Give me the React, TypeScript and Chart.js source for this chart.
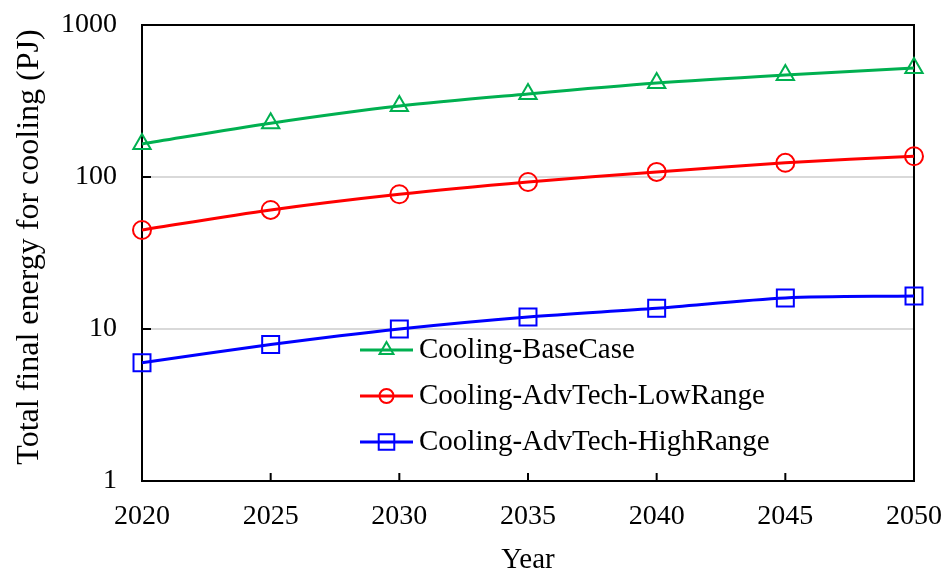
import React, { useEffect, useRef } from "react";
import { Chart, registerables } from "chart.js";

Chart.register(...registerables);

// Projection years and final energy for cooling (PJ) per scenario
const years = [2020, 2025, 2030, 2035, 2040, 2045, 2050];
const baseCase = [165, 226, 293, 352, 415, 469, 521];
const advTechLowRange = [44.8, 60.7, 77, 92.7, 108, 124, 137];
const advTechHighRange = [6.0, 7.9, 10, 12, 13.7, 16.0, 16.5];

const yTickValues = [1, 10, 100, 1000];
const yTitle = "Total final energy for cooling (PJ)";
const seriesNames = [
  "Cooling-BaseCase",
  "Cooling-AdvTech-LowRange",
  "Cooling-AdvTech-HighRange",
];
const seriesColors = ["#00B050", "#FF0000", "#0000FF"];
const seriesMarkers = ["triangle", "circle", "rect"] as const;
const markerRadius = [10, 9, 12];
const legendMarkerRadius = [8, 7, 11];

const FONT = "'Liberation Serif', 'Times New Roman', serif";

function drawMarker(ctx: CanvasRenderingContext2D, style: string, x: number, y: number, r: number) {
  ctx.beginPath();
  if (style === "circle") {
    ctx.arc(x, y, r, 0, Math.PI * 2);
  } else if (style === "rect") {
    const s = r * Math.SQRT1_2;
    ctx.rect(x - s, y - s, 2 * s, 2 * s);
  } else {
    const h = r * 1.5;
    const w = r * Math.sqrt(3);
    ctx.moveTo(x, y - r);
    ctx.lineTo(x + w / 2, y - r + h);
    ctx.lineTo(x - w / 2, y - r + h);
    ctx.closePath();
  }
  ctx.stroke();
}

// Full box around the plot, short inward tick marks and the vertical axis title
const framePlugin = {
  id: "frame",
  beforeDatasetsDraw(chart: any) {
    const { ctx, chartArea: a, scales } = chart;
    ctx.save();
    ctx.strokeStyle = "#000";
    ctx.lineWidth = 2;
    ctx.strokeRect(a.left, a.top, a.right - a.left, a.bottom - a.top);
    ctx.beginPath();
    years.slice(1, -1).forEach((yr) => {
      const x = scales.x.getPixelForValue(yr);
      ctx.moveTo(x, a.bottom);
      ctx.lineTo(x, a.bottom - 8);
    });
    yTickValues.slice(1, -1).forEach((v) => {
      const y = scales.y.getPixelForValue(v);
      ctx.moveTo(a.left, y);
      ctx.lineTo(a.left + 9, y);
    });
    ctx.stroke();

    ctx.translate(30, (a.top + a.bottom) / 2 - 6);
    ctx.rotate(-Math.PI / 2);
    ctx.fillStyle = "#000";
    ctx.font = `32px ${FONT}`;
    ctx.textAlign = "center";
    ctx.textBaseline = "middle";
    ctx.fillText(yTitle, 0, 0);
    ctx.restore();
  },
};

// Legend drawn inside the plot area
const legendPlugin = {
  id: "innerLegend",
  afterDraw(chart: any) {
    const { ctx, chartArea: a } = chart;
    const x0 = a.left + 218;
    const rowY0 = a.top + 325;
    const rowGap = 46;
    ctx.save();
    seriesNames.forEach((name, i) => {
      const y = rowY0 + i * rowGap;
      ctx.strokeStyle = seriesColors[i];
      ctx.lineWidth = 3;
      ctx.beginPath();
      ctx.moveTo(x0, y);
      ctx.lineTo(x0 + 53, y);
      ctx.stroke();
      ctx.lineWidth = 2;
      drawMarker(ctx, seriesMarkers[i], x0 + 26.5, y, legendMarkerRadius[i]);
      ctx.fillStyle = "#000";
      ctx.font = `29px ${FONT}`;
      ctx.textBaseline = "middle";
      ctx.textAlign = "left";
      ctx.fillText(name, x0 + 59, y);
    });
    ctx.restore();
  },
};

export default function App() {
  const canvasRef = useRef<HTMLCanvasElement | null>(null);

  useEffect(() => {
    if (!canvasRef.current) return;
    const seriesValues = [baseCase, advTechLowRange, advTechHighRange];
    const chart = new Chart(canvasRef.current, {
      type: "line",
      data: {
        datasets: seriesValues.map((vals, i) => ({
          label: seriesNames[i],
          data: years.map((yr, j) => ({ x: yr, y: vals[j] })),
          borderColor: seriesColors[i],
          borderWidth: 3,
          tension: 0.3,
          pointStyle: seriesMarkers[i],
          pointRadius: markerRadius[i],
          pointHoverRadius: markerRadius[i],
          pointBorderWidth: 2,
          pointBorderColor: seriesColors[i],
          pointBackgroundColor: "rgba(0,0,0,0)",
          clip: false as any,
        })),
      },
      options: {
        responsive: false,
        animation: false,
        events: [],
        layout: { padding: { left: 0, right: 37, top: 25, bottom: 0 } },
        plugins: {
          legend: { display: false },
          tooltip: { enabled: false },
        },
        scales: {
          x: {
            type: "linear",
            min: 2020,
            max: 2050,
            afterFit: (s: any) => {
              s.height = 93;
              s.paddingLeft = 0;
              s.paddingRight = 0;
            },
            grid: { display: false, drawTicks: false },
            border: { display: false },
            ticks: {
              stepSize: 5,
              padding: 19,
              color: "#000",
              font: { family: FONT, size: 28 },
              callback: (v: any) => String(v),
            },
            title: {
              display: true,
              text: "Year",
              color: "#000",
              font: { family: FONT, size: 29 },
              padding: { top: 0, bottom: -4 },
            },
          },
          y: {
            type: "logarithmic",
            min: 1,
            max: 1000,
            afterFit: (s: any) => {
              s.width = 142;
              s.paddingTop = 0;
              s.paddingBottom = 0;
            },
            afterBuildTicks: (s: any) => {
              s.ticks = yTickValues.map((v) => ({ value: v, major: true }));
            },
            grid: {
              drawTicks: false,
              lineWidth: 2,
              color: (c: any) =>
                c.tick && (c.tick.value === 10 || c.tick.value === 100)
                  ? "#D9D9D9"
                  : "rgba(0,0,0,0)",
            },
            border: { display: false },
            ticks: {
              padding: 25,
              color: "#000",
              font: { family: FONT, size: 28 },
              callback: (v: any) => String(v),
            },
          },
        },
      },
      plugins: [framePlugin, legendPlugin],
    });
    return () => chart.destroy();
  }, []);

  return (
    <div style={{ position: "absolute", left: 0, top: 0, width: 951, height: 574, background: "#fff" }}>
      <canvas ref={canvasRef} width={951} height={574} style={{ display: "block" }} />
    </div>
  );
}
